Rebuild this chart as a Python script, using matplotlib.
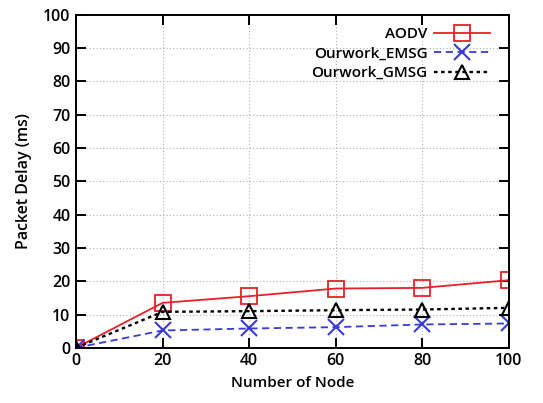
import matplotlib
matplotlib.use("Agg")
import matplotlib.pyplot as plt

plt.rcParams['font.family'] = ['Open Sans', 'DejaVu Sans']

# --- data ---
nodes = [0, 20, 40, 60, 80, 100]
aodv = [0, 13.5, 15.5, 17.8, 18.0, 20.3]
emsg = [0, 5.2, 5.8, 6.2, 7.0, 7.3]
gmsg = [0, 10.8, 11.0, 11.3, 11.5, 12.0]

fig = plt.figure(figsize=(5.43, 4.03), dpi=100)
ax = fig.add_axes([0.14, 0.137, 0.797, 0.826])

ax.plot(nodes, aodv, color='#e8202a', lw=1.3, marker='s', ms=11,
        mfc='none', mec='#e8202a', mew=1.3, label='AODV')
ax.plot(nodes, emsg, color='#3a3ad8', lw=1.3, ls=(0, (4, 2.5)), marker='x',
        ms=11.5, mew=1.5, label='Ourwork_EMSG')
ax.plot(nodes, gmsg, color='black', lw=1.7, ls=(0, (1.5, 1.5)), marker='^',
        ms=10, mfc='none', mec='black', mew=1.5, label='Ourwork_GMSG')

ax.set_xlim(0, 100)
ax.set_ylim(0, 100)
ax.set_xticks(nodes)
ax.set_yticks(range(0, 101, 10))
ax.tick_params(direction='in', length=7.5, width=1.4, top=True, right=True,
               labelsize=11.5, pad=4)
for lab in ax.get_xticklabels() + ax.get_yticklabels():
    lab.set_fontweight('semibold')
ax.grid(True, color='#b0b0b0', ls=(0, (1, 2)), lw=0.8)
for s in ax.spines.values():
    s.set_linewidth(1.4)

ax.set_xlabel('Number of Node', fontsize=11, fontweight='semibold', labelpad=5)
ax.set_ylabel('Packet Delay (ms)', fontsize=11.5, fontweight='semibold', labelpad=8)

leg = ax.legend(loc='upper right', bbox_to_anchor=(0.957, 0.963),
                frameon=False, markerfirst=False,
                prop={'size': 11, 'weight': 'semibold'}, handlelength=3.7,
                labelspacing=0.35, borderaxespad=0, handletextpad=0.4,
                borderpad=0)
for t in leg.get_texts():
    t.set_ha('right')

fig.savefig('out.png', dpi=100)
